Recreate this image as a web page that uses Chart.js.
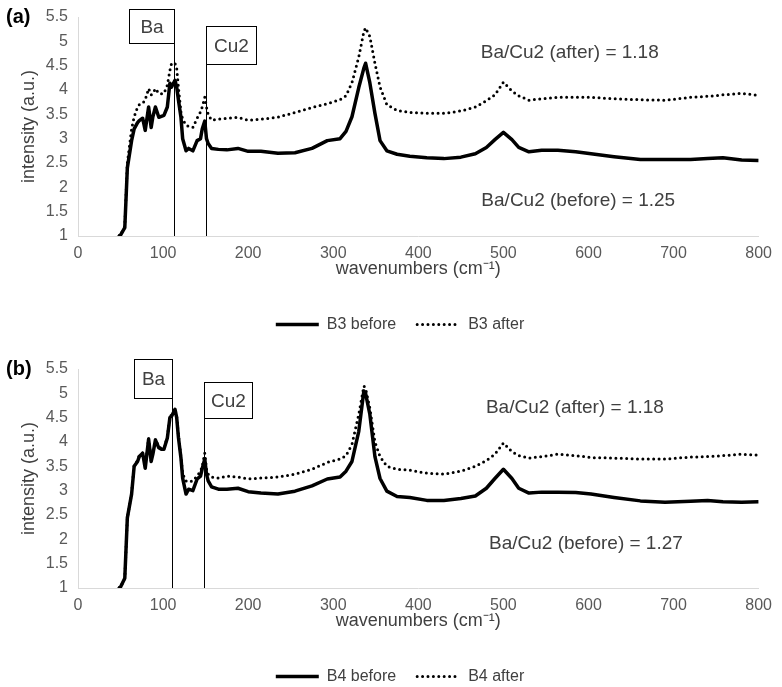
<!DOCTYPE html>
<html>
<head>
<meta charset="utf-8">
<script src="https://cdn.jsdelivr.net/npm/chart.js@4.4.1/dist/chart.umd.min.js"></script>
<style>
  html, body { margin: 0; padding: 0; background: #fff; overflow: hidden; }
  .panel { position: absolute; left: 0; width: 782px; height: 352px; }
</style>
</head>
<body>
<div class="panel" style="top:0"><canvas id="chartA" width="782" height="352"></canvas></div>
<div class="panel" style="top:352px"><canvas id="chartB" width="782" height="352"></canvas></div>
<script>
// Raman spectra (wavenumber in cm-1, intensity in a.u.)
const wavenumbers = [48, 50, 55, 58, 63, 66, 70, 72, 76, 79, 83, 86, 88, 91, 95, 98, 101, 105, 108, 110,
  114, 116, 118, 121, 123, 127, 130, 135, 140, 144, 146, 149, 151, 153, 157, 165, 175, 188, 200, 215,
  235, 255, 275, 293, 308, 315, 322, 330, 336, 338, 343, 349, 355, 363, 375, 390, 410, 430, 450, 467,
  480, 490, 500, 510, 518, 530, 545, 564, 585, 603, 630, 661, 690, 720, 740, 758, 780, 800];

const b3Before = [1.0, 1.02, 1.17, 2.4, 2.96, 3.2, 3.33, 3.37, 3.42, 3.17, 3.65, 3.23, 3.45, 3.65, 3.44, 3.46, 3.48, 3.65, 4.14, 4.06,
  4.2, 4.06, 3.8, 3.44, 3.0, 2.75, 2.8, 2.75, 2.96, 3.0, 3.2, 3.36, 3.0, 2.9, 2.8, 2.78, 2.77, 2.8, 2.74, 2.74,
  2.7, 2.71, 2.8, 2.96, 3.0, 3.15, 3.45, 4.05, 4.45, 4.55, 4.15, 3.52, 2.96, 2.75, 2.68, 2.64, 2.61, 2.59, 2.62, 2.69,
  2.82, 2.98, 3.13, 2.98, 2.82, 2.73, 2.76, 2.76, 2.73, 2.69, 2.63, 2.57, 2.57, 2.57, 2.59, 2.61, 2.56, 2.55];

const b3After = [1.0, 1.02, 1.2, 2.5, 3.2, 3.45, 3.65, 3.7, 3.72, 3.8, 4.03, 3.9, 3.93, 4.03, 3.93, 3.92, 3.93, 4.1, 4.4, 4.55,
  4.55, 4.45, 4.06, 3.55, 3.4, 3.28, 3.25, 3.23, 3.42, 3.55, 3.65, 3.85, 3.65, 3.5, 3.38, 3.4, 3.42, 3.44, 3.38, 3.4,
  3.44, 3.54, 3.64, 3.72, 3.8, 3.88, 4.15, 4.68, 5.2, 5.28, 5.1, 4.55, 4.06, 3.7, 3.58, 3.54, 3.52, 3.52, 3.57, 3.65,
  3.78, 3.9, 4.16, 3.98, 3.88, 3.79, 3.82, 3.85, 3.85, 3.85, 3.82, 3.8, 3.79, 3.85, 3.87, 3.9, 3.93, 3.89];

const b4Before = [1.0, 1.02, 1.2, 2.44, 2.93, 3.5, 3.6, 3.7, 3.77, 3.46, 4.06, 3.6, 3.75, 4.04, 3.88, 3.85, 3.85, 4.08, 4.5, 4.53,
  4.67, 4.5, 4.1, 3.67, 3.26, 2.93, 3.03, 3.0, 3.24, 3.3, 3.45, 3.65, 3.34, 3.2, 3.08, 3.03, 3.03, 3.05, 2.98, 2.95,
  2.93, 2.99, 3.1, 3.24, 3.28, 3.4, 3.6, 4.22, 5.05, 5.0, 4.57, 3.7, 3.25, 2.99, 2.88, 2.86, 2.8, 2.8, 2.84, 2.89,
  3.05, 3.25, 3.44, 3.25, 3.05, 2.95, 2.97, 2.97, 2.96, 2.93, 2.86, 2.79, 2.76, 2.78, 2.8, 2.77, 2.76, 2.77];

const b4After = [1.0, 1.02, 1.2, 2.44, 2.95, 3.52, 3.62, 3.72, 3.78, 3.5, 4.08, 3.62, 3.78, 4.06, 3.9, 3.87, 3.87, 4.1, 4.52, 4.56,
  4.68, 4.52, 4.15, 3.7, 3.35, 3.2, 3.18, 3.2, 3.3, 3.4, 3.5, 3.77, 3.45, 3.34, 3.28, 3.26, 3.3, 3.28, 3.24, 3.26,
  3.28, 3.34, 3.44, 3.58, 3.65, 3.72, 3.95, 4.57, 5.15, 5.1, 4.7, 4.0, 3.7, 3.5, 3.44, 3.42, 3.36, 3.34, 3.4, 3.5,
  3.62, 3.75, 3.98, 3.8, 3.72, 3.67, 3.7, 3.75, 3.72, 3.68, 3.67, 3.65, 3.65, 3.69, 3.7, 3.72, 3.75, 3.73];

const xTickValues = [0, 100, 200, 300, 400, 500, 600, 700, 800];
const yTickValues = [1, 1.5, 2, 2.5, 3, 3.5, 4, 4.5, 5, 5.5];

Chart.defaults.font.family = "'Liberation Sans', Arial, sans-serif";
Chart.defaults.color = '#404040';

const TEXT = '#404040';

function toPoints(values) {
  return wavenumbers.map((w, i) => ({ x: w, y: values[i] }));
}

// boxes with the peak lines + ratio notes + panel letter
const peakLabels = {
  id: 'peakLabels',
  afterDatasetsDraw(chart, args, opts) {
    const { ctx } = chart;
    const xs = chart.scales.x, ys = chart.scales.y;
    const yAxis = ys.getPixelForValue(1);
    ctx.save();
    ctx.lineWidth = 1;
    ctx.strokeStyle = '#000';
    opts.boxes.forEach(b => {
      const px = Math.round(xs.getPixelForValue(b.peak)) + 0.5;
      const ex = Math.round(xs.getPixelForValue(b.edge)) + 0.5;
      const top = Math.round(ys.getPixelForValue(b.top)) + 0.5;
      const bot = Math.round(ys.getPixelForValue(b.bottom)) + 0.5;
      const left = Math.min(px, ex), w = Math.abs(ex - px);
      ctx.fillStyle = '#fff';
      ctx.fillRect(left, top, w, bot - top);
      ctx.strokeRect(left, top, w, bot - top);
      ctx.beginPath();
      ctx.moveTo(px, top);
      ctx.lineTo(px, yAxis);
      ctx.stroke();
      ctx.fillStyle = TEXT;
      ctx.font = "19px 'Liberation Sans', Arial, sans-serif";
      ctx.textAlign = 'center';
      ctx.textBaseline = 'middle';
      ctx.fillText(b.text, left + w / 2, (top + bot) / 2 + 1);
    });
    ctx.font = "19px 'Liberation Sans', Arial, sans-serif";
    ctx.fillStyle = TEXT;
    ctx.textAlign = 'center';
    ctx.textBaseline = 'middle';
    opts.notes.forEach(n => {
      ctx.fillText(n.text, xs.getPixelForValue(n.x), ys.getPixelForValue(n.y));
    });
    ctx.font = "bold 20px 'Liberation Sans', Arial, sans-serif";
    ctx.fillStyle = '#000';
    ctx.textAlign = 'left';
    ctx.fillText(opts.panel, 6, 17);
    ctx.restore();
  }
};

// legend keeps the dash of each line (point-style legend drops it otherwise)
function legendItems(chart) {
  const items = Chart.defaults.plugins.legend.labels.generateLabels(chart);
  items.forEach((it, i) => {
    const ds = chart.data.datasets[i];
    it.lineDash = ds.borderDash || [];
    it.lineCap = ds.borderCapStyle || 'butt';
    it.lineWidth = ds.borderWidth;
    it.strokeStyle = ds.borderColor;
  });
  return items;
}

function buildChart(id, names, before, after, annot) {
  return new Chart(document.getElementById(id), {
    type: 'line',
    data: {
      datasets: [
        {
          label: names[0],
          data: toPoints(before),
          borderColor: '#000',
          backgroundColor: '#000',
          borderWidth: 3.5,
          borderJoinStyle: 'round',
          pointRadius: 0,
          tension: 0,
          fill: false
        },
        {
          label: names[1],
          data: toPoints(after),
          borderColor: '#000',
          backgroundColor: '#000',
          borderWidth: 3,
          borderDash: [0, 5.4],
          borderCapStyle: 'round',
          pointRadius: 0,
          tension: 0,
          fill: false
        }
      ]
    },
    options: {
      responsive: false,
      animation: false,
      events: [],
      layout: { padding: { left: 34, right: 16, top: 17, bottom: 9.5 } },
      plugins: {
        tooltip: { enabled: false },
        legend: {
          position: 'bottom',
          labels: {
            usePointStyle: true,
            pointStyle: 'line',
            pointStyleWidth: 43,
            generateLabels: legendItems,
            font: { size: 16 },
            color: TEXT,
            padding: 21
          }
        },
        peakLabels: annot
      },
      scales: {
        x: {
          type: 'linear',
          min: 0,
          max: 800,
          afterBuildTicks: s => { s.ticks = xTickValues.map(v => ({ value: v })); },
          grid: { display: false, drawTicks: false },
          border: { display: true, color: '#d9d9d9', width: 1 },
          ticks: { font: { size: 16, lineHeight: 1 }, color: '#595959', padding: 10, maxRotation: 0 },
          title: {
            display: true,
            text: 'wavenumbers (cm\u207B\u00B9)',
            font: { size: 18, lineHeight: 1 },
            color: TEXT,
            padding: { top: -12, bottom: 17.5 }
          }
        },
        y: {
          min: 1,
          max: 5.5,
          afterBuildTicks: s => { s.ticks = yTickValues.map(v => ({ value: v })); },
          afterFit: s => { s.width = 44; s.paddingTop = 0; s.paddingBottom = 0; },
          grid: { display: false, drawTicks: false },
          border: { display: true, color: '#d9d9d9', width: 1 },
          ticks: { font: { size: 16 }, color: '#595959', padding: 10, callback: v => String(v) },
          title: {
            display: true,
            text: 'intensity (a.u.)',
            font: { size: 18 },
            color: TEXT,
            padding: { top: -16, bottom: 0 }
          }
        }
      }
    },
    plugins: [peakLabels]
  });
}

buildChart('chartA', ['B3 before', 'B3 after'], b3Before, b3After, {
  panel: '(a)',
  boxes: [
    { text: 'Ba', peak: 112.8, edge: 60.5, top: 5.67, bottom: 4.97 },
    { text: 'Cu2', peak: 150, edge: 209, top: 5.32, bottom: 4.53 }
  ],
  notes: [
    { text: 'Ba/Cu2 (after) = 1.18', x: 578, y: 4.76 },
    { text: 'Ba/Cu2 (before) = 1.25', x: 588, y: 1.72 }
  ]
});

buildChart('chartB', ['B4 before', 'B4 after'], b4Before, b4After, {
  panel: '(b)',
  boxes: [
    { text: 'Ba', peak: 110.5, edge: 66, top: 5.70, bottom: 4.90 },
    { text: 'Cu2', peak: 147.7, edge: 205, top: 5.23, bottom: 4.49 }
  ],
  notes: [
    { text: 'Ba/Cu2 (after) = 1.18', x: 584, y: 4.70 },
    { text: 'Ba/Cu2 (before) = 1.27', x: 597, y: 1.90 }
  ]
});
</script>
</body>
</html>
